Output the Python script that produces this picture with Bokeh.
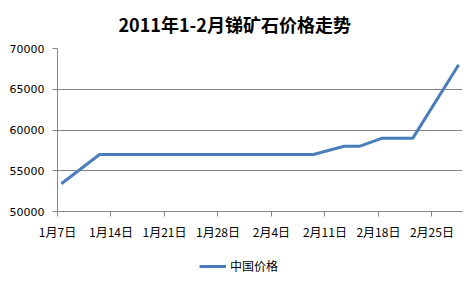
import pandas as pd
from bokeh.plotting import figure
from bokeh.layouts import column
from bokeh.models import (Range1d, FixedTicker, BasicTickFormatter, Legend, LegendItem, Title)
from bokeh.embed import file_html
from bokeh.resources import INLINE

title_text = "2011年1-2月锑矿石价格走势"
series_name = "中国价格"
dates = ["2011-01-07", "2011-01-12", "2011-02-09", "2011-02-13", "2011-02-15",
         "2011-02-18", "2011-02-22", "2011-02-28"]
prices = [53400, 57000, 57000, 58000, 58000, 59000, 59000, 68000]
tick_dates = ["2011-01-07", "2011-01-14", "2011-01-21", "2011-01-28",
              "2011-02-04", "2011-02-11", "2011-02-18", "2011-02-25"]
tick_labels = ["1月7日", "1月14日", "1月21日", "1月28日", "2月4日", "2月11日", "2月18日", "2月25日"]
y_ticks = [50000, 55000, 60000, 65000, 70000]

LINE_COLOR = "#4A7EBB"
origin = pd.Timestamp("2011-01-07")
xs = [(pd.Timestamp(d) - origin).days + 0.5 for d in dates]
tick_pos = [(pd.Timestamp(d) - origin).days for d in tick_dates]

p = figure(width=476, height=250, output_backend="svg", toolbar_location=None,
           x_range=Range1d(0, 53), y_range=Range1d(50000, 70000))
p.min_border_left = 57
p.min_border_right = 14
p.min_border_top = 47
p.min_border_bottom = 39
p.outline_line_color = None
p.background_fill_color = "white"
p.border_fill_color = "white"

r = p.line(xs, prices, line_color=LINE_COLOR, line_width=3)

p.xgrid.visible = False
p.ygrid.ticker = FixedTicker(ticks=y_ticks)
p.ygrid.grid_line_color = "#868686"
p.ygrid.grid_line_width = 1

p.yaxis.ticker = FixedTicker(ticks=y_ticks)
p.yaxis.formatter = BasicTickFormatter(use_scientific=False)
p.yaxis.axis_line_color = "#868686"
p.yaxis.major_tick_line_color = "#868686"
p.yaxis.major_tick_out = 5
p.yaxis.major_tick_in = 0
p.yaxis.minor_tick_line_color = None
p.yaxis.major_label_text_font = "DejaVu Sans"
p.yaxis.major_label_text_font_size = "11px"
p.yaxis.major_label_text_color = "black"
p.yaxis.major_label_standoff = 8

p.xaxis.ticker = FixedTicker(ticks=tick_pos)
p.xaxis.major_label_overrides = {t: l for t, l in zip(tick_pos, tick_labels)}
p.xaxis.axis_line_color = "#868686"
p.xaxis.major_tick_line_color = "#868686"
p.xaxis.major_tick_out = 5
p.xaxis.major_tick_in = 0
p.xaxis.minor_tick_line_color = None
p.xaxis.major_label_text_font = "Noto Sans CJK SC"
p.xaxis.major_label_text_font_size = "12px"
p.xaxis.major_label_text_color = "black"
p.xaxis.major_label_standoff = 6

p.title = Title(text=title_text, align="left", text_font="Noto Sans CJK SC",
                text_font_size="18px", text_font_style="bold", text_color="black",
                offset=61, standoff=20, vertical_align="top")

# legend strip below the chart (same series, out of its view, only for the legend key)
lg = figure(width=476, height=34, output_backend="svg", toolbar_location=None,
            x_range=Range1d(0, 53), y_range=Range1d(0, 1),
            x_axis_type=None, y_axis_type=None)
lg.min_border = 0
lg.min_border_left = 0
lg.min_border_right = 0
lg.min_border_top = 0
lg.min_border_bottom = 0
lg.outline_line_color = None
lg.background_fill_color = "white"
lg.border_fill_color = "white"
lg.grid.visible = False
lr = lg.line(xs, prices, line_color=LINE_COLOR, line_width=3)
legend = Legend(items=[LegendItem(label=series_name, renderers=[lr])],
                orientation="horizontal", location=(142, 10),
                label_text_font="Noto Sans CJK SC", label_text_font_size="12px",
                label_text_color="black", glyph_width=27, glyph_height=14,
                border_line_color=None, background_fill_alpha=0,
                margin=0, padding=2, label_standoff=4)
lg.add_layout(legend)

layout = column(p, lg, spacing=0)
open("out.html", "w").write(file_html(layout, INLINE))
